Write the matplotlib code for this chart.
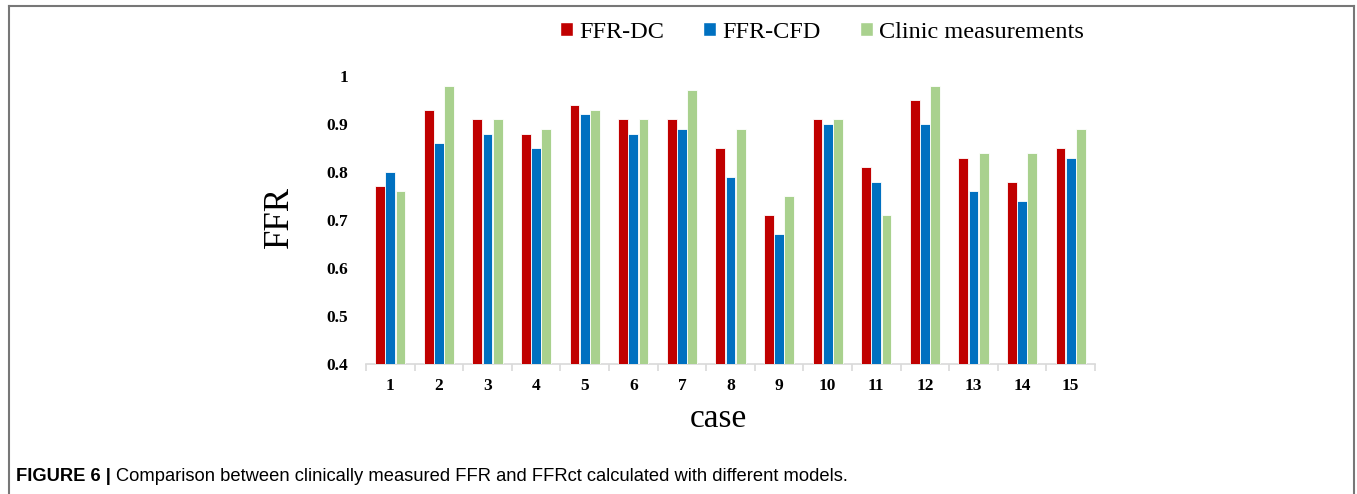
import matplotlib
matplotlib.use("Agg")
import matplotlib.pyplot as plt
from matplotlib.lines import Line2D
from matplotlib.patches import Patch
import numpy as np

cases = ["1", "2", "3", "4", "5", "6", "7", "8", "9", "10", "11", "12", "13", "14", "15"]
ffr_dc = [0.77, 0.93, 0.91, 0.88, 0.94, 0.91, 0.91, 0.85, 0.71, 0.91, 0.81, 0.95, 0.83, 0.78, 0.85]
ffr_cfd = [0.80, 0.86, 0.88, 0.85, 0.92, 0.88, 0.89, 0.79, 0.67, 0.90, 0.78, 0.90, 0.76, 0.74, 0.83]
clinic = [0.76, 0.98, 0.91, 0.89, 0.93, 0.91, 0.97, 0.89, 0.75, 0.91, 0.71, 0.98, 0.84, 0.84, 0.89]
series_names = ["FFR-DC", "FFR-CFD", "Clinic measurements"]
yticks = [0.4, 0.5, 0.6, 0.7, 0.8, 0.9, 1.0]
ytick_labels = ["0.4", "0.5", "0.6", "0.7", "0.8", "0.9", "1"]

colors = ["#C00000", "#0070C0", "#A9D18E"]

W, H = 1357, 494
fig = plt.figure(figsize=(W / 100, H / 100), dpi=100)
AX_L, AX_R, AX_T, AX_B = 366, 1095, 76, 364
ax = fig.add_axes([AX_L / W, 1 - AX_B / H, (AX_R - AX_L) / W, (AX_B - AX_T) / H])

x = np.arange(len(cases))
bw = 0.2
offs = [-0.21, 0.0, 0.21]
for vals, c, o, n in zip([ffr_dc, ffr_cfd, clinic], colors, offs, series_names):
    ax.bar(x + o, [v - 0.4 for v in vals], bottom=0.4, width=bw, color=c,
           edgecolor="white", linewidth=0.6, label=n, zorder=3)

ax.set_xlim(-0.5, len(cases) - 0.5)
ax.set_ylim(0.4, 1.0)
for s in ["left", "right", "top"]:
    ax.spines[s].set_visible(False)
ax.spines["bottom"].set_color("#D9D9D9")
ax.spines["bottom"].set_linewidth(1.2)

ax.set_xticks(x)
ax.set_xticklabels(cases, fontfamily="Liberation Serif", fontweight="bold", fontsize=12.5)
ax.set_xticks(np.arange(-0.5, len(cases), 1.0), minor=True)
ax.tick_params(axis="x", which="major", length=0, pad=10)
ax.tick_params(axis="x", which="minor", length=5, color="#D9D9D9", width=1.2)
ax.set_yticks(yticks)
ax.set_yticklabels(ytick_labels, fontfamily="Liberation Serif", fontweight="bold", fontsize=12.5)
ax.tick_params(axis="y", length=0, pad=13)

pw, ph = AX_R - AX_L, AX_B - AX_T
ax.set_ylabel("FFR", fontfamily="Liberation Serif", fontsize=25, va="center")
ax.yaxis.set_label_coords((279 - AX_L) / pw, (AX_B - 217) / ph)
ax.set_xlabel("case", fontfamily="Liberation Serif", fontsize=24, va="center")
ax.xaxis.set_label_coords((718 - AX_L) / pw, (AX_B - 419) / ph)

handles = [Patch(facecolor=c, edgecolor="white") for c in colors]
fig.legend(handles, series_names, loc="center", bbox_to_anchor=(822 / W, 1 - 32 / H),
           ncol=3, frameon=False, prop={"family": "Liberation Serif", "size": 17.5},
           handlelength=0.55, handleheight=0.55, handletextpad=0.25, columnspacing=1.6)

# frame around figure (left, top, right)
fc = "#777777"
fig.add_artist(Line2D([9 / W, 9 / W], [0, 1 - 6 / H], transform=fig.transFigure, color=fc, lw=1.5))
fig.add_artist(Line2D([9 / W, 1354 / W], [1 - 6 / H, 1 - 6 / H], transform=fig.transFigure, color=fc, lw=1.5))
fig.add_artist(Line2D([1354 / W, 1354 / W], [0, 1 - 6 / H], transform=fig.transFigure, color=fc, lw=1.5))

# caption
t1 = fig.text(16 / W, 1 - 476 / H, "FIGURE 6 |", fontfamily="Liberation Sans", fontweight="bold",
              fontsize=13.2, va="center", ha="left")
fig.canvas.draw()
bb = t1.get_window_extent()
fig.text((bb.x1 + 5) / W, 1 - 476 / H,
         "Comparison between clinically measured FFR and FFRct calculated with different models.",
         fontfamily="Liberation Sans", fontsize=13.2, va="center", ha="left")

fig.savefig("out.png", dpi=100, facecolor="white")
